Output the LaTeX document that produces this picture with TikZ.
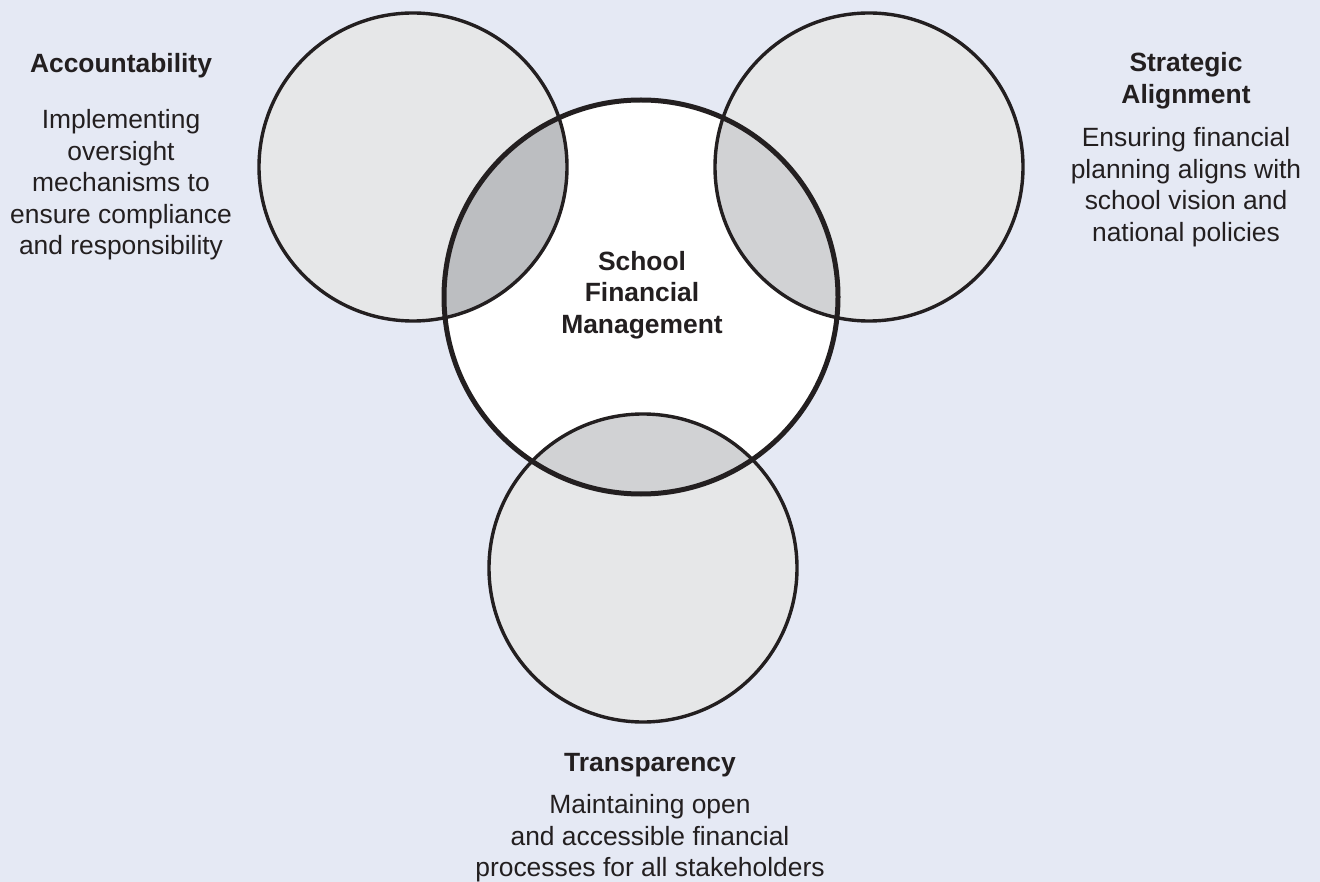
\documentclass[tikz,border=0pt]{standalone}
\usepackage{fontspec}
\setmainfont{Liberation Sans}
\usepackage{xcolor}
\usetikzlibrary{calc}
\definecolor{bgblue}{HTML}{E5E9F4}
\definecolor{ringgray}{HTML}{E6E7E8}
\definecolor{lensdark}{HTML}{BCBEC1}
\definecolor{lenslight}{HTML}{D1D2D4}
\definecolor{inkline}{HTML}{231F20}

\begin{document}
\begin{tikzpicture}[x=1pt,y=-1pt]
\tikzset{
    outer ring/.style={circle,draw=inkline,line width=3.4pt,minimum size=308pt,inner sep=0pt},
    core ring/.style={circle,draw=inkline,line width=5pt,minimum size=394pt,inner sep=0pt},
    head text/.style={font=\fontsize{26.4pt}{31.5pt}\selectfont\bfseries,text=inkline,align=center,inner sep=0pt,anchor=north},
    body text/.style={font=\fontsize{26.4pt}{31.5pt}\selectfont,text=inkline,align=center,inner sep=0pt,anchor=north}
}
  \fill[bgblue] (0,0) rectangle (1320,882);
  \useasboundingbox (0,0) rectangle (1320,882);

  \coordinate (acc) at (413,167);
  \coordinate (str) at (869,167);
  \coordinate (tra) at (643,568);
  \coordinate (sfm) at (641,297);

  % fills first, outlines on top
  \foreach \c in {acc,str,tra}
    \fill[ringgray] (\c) circle (154pt);
  \fill[white] (sfm) circle (197pt);
  \begin{scope}
    \clip (sfm) circle (197pt);
    \fill[lensdark] (acc) circle (154pt);
    \fill[lenslight] (str) circle (154pt);
    \fill[lenslight] (tra) circle (154pt);
  \end{scope}

  \node[outer ring] (accring) at (acc) {};
  \node[outer ring] (strring) at (str) {};
  \node[outer ring] (trarring) at (tra) {};
  \node[core ring] (sfmring) at (sfm) {};

  \node[head text] (sfmhead) at (642,251) {School\\Financial\\Management};

  \node[head text] (acchead) at (121,53.4) {Accountability};
  \node[body text] (accbody) at (121,109.4) {Implementing\\oversight\\mechanisms to\\ensure compliance\\and responsibility};

  \node[head text] (strhead) at (1186,52.6) {Strategic\\Alignment};
  \node[body text] (strbody) at (1186,127.5) {Ensuring financial\\planning aligns with\\school vision and\\national policies};

  \node[head text] (trahead) at (650,752.8) {Transparency};
  \node[body text] (trabody) at (650,794.4) {Maintaining open\\and accessible financial\\processes for all stakeholders};
\end{tikzpicture}
\end{document}
